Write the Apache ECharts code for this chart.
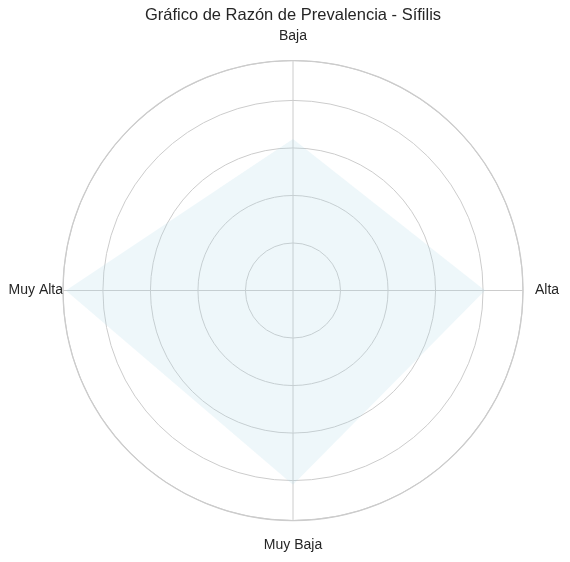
<!DOCTYPE html>
<html>
<head>
<meta charset="utf-8">
<script src="https://cdn.jsdelivr.net/npm/echarts@6/dist/echarts.min.js"></script>
<style>html,body{margin:0;padding:0;background:#fff}#c{width:570px;height:562px}</style>
</head>
<body>
<div id="c"></div>
<script>
const categories = ['Baja', 'Alta', 'Muy Baja', 'Muy Alta'];
const values = [3.19, 4.04, 4.09, 4.78];
const radialMax = 4.84;
const radialStep = 1;

const chart = echarts.init(document.getElementById('c'));
// radar indicators run counter-clockwise; reorder so the polygon follows the clockwise polar axis
const order = [0].concat(categories.slice(1).map((_, i) => categories.length - 1 - i));
const center = [293, 290.5];
const R = 230;
const step = 360 / categories.length;
const font = 'Liberation Sans';
chart.setOption({
  animation: false,
  title: {
    text: 'Gráfico de Razón de Prevalencia - Sífilis',
    left: 293, textAlign: 'center', top: 7, padding: 0,
    textStyle: { fontFamily: font, fontSize: 16.5, fontWeight: 'normal', color: '#262626' }
  },
  polar: { center: center, radius: R },
  angleAxis: {
    type: 'value', min: 0, max: 360, interval: step,
    startAngle: 90,
    clockwise: true,
    axisLine: { show: true, lineStyle: { color: '#cccccc', width: 1.25 } },
    axisTick: { show: false },
    splitLine: { show: true, lineStyle: { color: '#cccccc', width: 1 } },
    axisLabel: {
      margin: 0, color: '#262626', fontFamily: font, fontSize: 14,
      formatter: v => {
        const i = Math.round(v / step);
        return i < categories.length ? '{p' + i + '|' + categories[i] + '}' : '';
      },
      rich: {
        p0: { padding: [0, 0, 17, 0], fontFamily: font, fontSize: 14, color: '#262626' },
        p1: { padding: [0, 0, 0, 12], fontFamily: font, fontSize: 14, color: '#262626' },
        p2: { padding: [18, 0, 0, 0], fontFamily: font, fontSize: 14, color: '#262626' },
        p3: { padding: [0, 0, 0, 0], fontFamily: font, fontSize: 14, color: '#262626' }
      }
    },
    z: 1
  },
  radiusAxis: {
    type: 'value', min: 0, max: radialMax, interval: radialStep,
    axisLine: { show: false }, axisTick: { show: false }, axisLabel: { show: false },
    splitLine: { show: true, lineStyle: { color: '#cccccc', width: 1 } }
  },
  radar: {
    center: center, radius: R, startAngle: 90, shape: 'circle',
    indicator: order.map(i => ({ name: categories[i], min: 0, max: radialMax })),
    axisName: { show: false },
    axisLine: { show: false }, splitLine: { show: false }, splitArea: { show: false }, axisTick: { show: false }, axisLabel: { show: false }
  },
  series: [{
    type: 'radar',
    z: 5,
    symbol: 'none',
    lineStyle: { width: 0, opacity: 0 },
    areaStyle: { color: 'rgba(173,216,230,0.3)' },
    data: [{ value: order.map(i => values[i]) }]
  }]
});
</script>
</body>
</html>
